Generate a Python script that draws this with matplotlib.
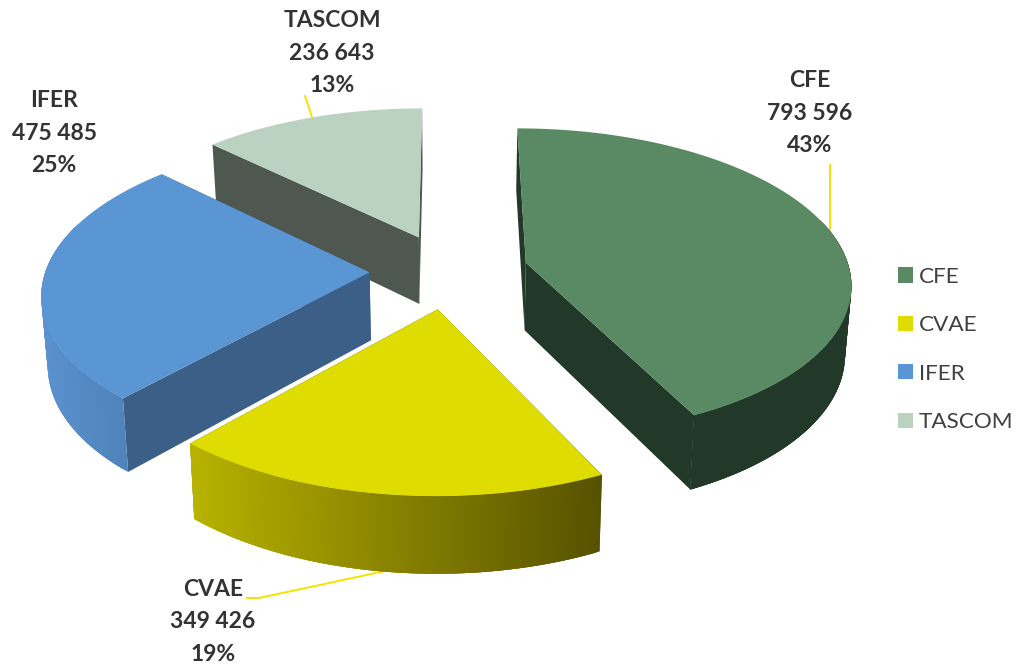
import numpy as np
import matplotlib
matplotlib.use("Agg")
import matplotlib.pyplot as plt
from matplotlib.patches import Patch
from matplotlib.colors import to_rgb

categories = ["CFE", "CVAE", "IFER", "TASCOM"]
values = [793596, 349426, 475485, 236643]
value_labels = ["793 596", "349 426", "475 485", "236 643"]
pct_labels = ["43%", "19%", "25%", "13%"]
top_colors = ["#5A8A64", "#DEDC00", "#5B96D4", "#BBD2C1"]
cut_colors = ["#223829", "#5A5500", "#3C5F87", "#4E5850"]
rim_left = ["#223829", "#B8B200", "#5A92CE", "#BBD2C1"]
rim_right = ["#223829", "#565200", "#4A7CB0", "#8FA596"]
label_pos = [(810, 113), (213, 622), (54, 133), (332, 53)]
leaders = [[(830, 165), (830, 229)],
           [(247, 598), (259, 598), (385, 571)],
           [],
           [(305, 96), (313, 120)]]
draw_order = [3, 2, 0, 1]

CX, CY = 449.0, 271.0
RX, RY = 324.0, 153.0
PERSP, PERSP_D = 0.125, 0.10
EXPLODE = 0.245
DEPTH, SHRINK = 68.0, 0.016

plt.rcParams["font.family"] = ["Lato", "DejaVu Sans"]
fig = plt.figure(figsize=(10.16, 6.66), dpi=100)
ax = fig.add_axes([0, 0, 1, 1])
ax.set_xlim(0, 1016)
ax.set_ylim(666, 0)
ax.axis("off")


def project(x, z, h):
    w = 1 + PERSP * z
    sx = CX + RX * x / w * (1 - SHRINK * h)
    sy = CY - RY * z / w + h * DEPTH / (1 + PERSP_D * z)
    return sx, sy


total = sum(values)
edges = np.cumsum([0] + values) / total * 2 * np.pi
for i in draw_order:
    a0, a1 = edges[i], edges[i + 1]
    mid = (a0 + a1) / 2
    ox, oz = EXPLODE * np.sin(mid), EXPLODE * np.cos(mid)
    t = np.linspace(a0, a1, 121)
    xs, zs = ox + np.sin(t), oz + np.cos(t)
    tx, ty = project(xs, zs, 0)
    bx, by = project(xs, zs, 1)
    ax0, ay0 = project(ox, oz, 0)
    bx0, by0 = project(ox, oz, 1)
    # flat cut faces
    ax.fill([tx[0], ax0, bx0, bx[0]], [ty[0], ay0, by0, by[0]],
            facecolor=cut_colors[i], edgecolor="none", zorder=1)
    ax.fill([tx[-1], ax0, bx0, bx[-1]], [ty[-1], ay0, by0, by[-1]],
            facecolor=cut_colors[i], edgecolor="none", zorder=1)
    # curved rim, only where it faces the viewer: overlapping strips give a seamless gradient
    c0, c1 = np.array(to_rgb(rim_left[i])), np.array(to_rgb(rim_right[i]))
    lo, hi = tx.min(), max(tx[0], tx[-1])
    n = len(t) - 1
    for k in range(n):
        if np.cos(t[k]) > 0.3:
            continue
        e = min(k + 3, n)
        f = np.clip(((tx[k] + tx[k + 1]) / 2 - lo) / (hi - lo), 0, 1)
        ax.fill(np.r_[tx[k:e + 1], bx[k:e + 1][::-1]],
                np.r_[ty[k:e + 1], by[k:e + 1][::-1]],
                facecolor=tuple(c0 + (c1 - c0) * f), edgecolor="none", zorder=1)
    # top face
    ax.fill(np.r_[ax0, tx], np.r_[ay0, ty], facecolor=top_colors[i],
            edgecolor="none", zorder=1)

for i, name in enumerate(categories):
    ax.text(label_pos[i][0], label_pos[i][1],
            f"{name}\n{value_labels[i]}\n{pct_labels[i]}",
            ha="center", va="center", fontsize=16.5, fontweight="bold",
            color="#333333", linespacing=1.68, zorder=20)
    pts = leaders[i]
    if pts:
        ax.plot([p[0] for p in pts], [p[1] for p in pts], color="#F2E300",
                lw=1.4, zorder=0.5)

handles = [Patch(facecolor=c, edgecolor="none") for c in top_colors]
leg = ax.legend(handles, categories, loc="upper left",
                bbox_to_anchor=(889 / 1016, 1 - 258 / 666), frameon=False,
                fontsize=16.2, labelcolor="#404040", handlelength=0.67,
                handleheight=0.67, handletextpad=0.25, labelspacing=1.26,
                borderpad=0.4, borderaxespad=0)

fig.savefig("out.png", dpi=100, facecolor="white")
